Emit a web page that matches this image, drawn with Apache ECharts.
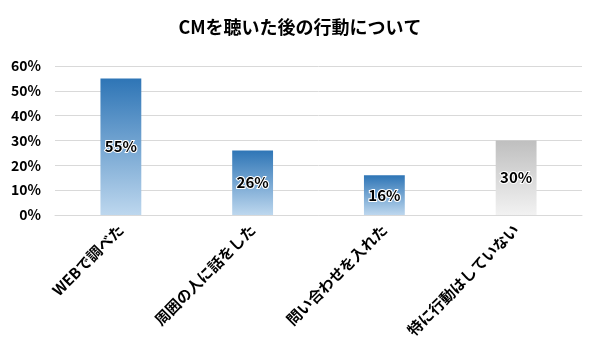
<!DOCTYPE html>
<html><head><meta charset="utf-8">
<script src="https://cdn.jsdelivr.net/npm/echarts@6/dist/echarts.min.js"></script>
<style>html,body{margin:0;padding:0;background:#fff}#c{width:600px;height:360px}</style>
</head><body><div id="c"></div>
<script>
const titleText = 'CMを聴いた後の行動について';
const categories = ['WEBで調べた', '周囲の人に話をした', '問い合わせを入れた', '特に行動はしていない'];
const values = [55, 26, 16, 30];
const highlight = [false, false, false, true];

const font = '"Noto Sans CJK JP", "Noto Sans", sans-serif';
const blueGrad = new echarts.graphic.LinearGradient(0,0,0,1,[{offset:0,color:'#2E75B6'},{offset:1,color:'#BDD7EE'}]);
const grayGrad = new echarts.graphic.LinearGradient(0,0,0,1,[{offset:0,color:'#BFBFBF'},{offset:1,color:'#F2F2F2'}]);

const chart = echarts.init(document.getElementById('c'), null, {renderer:'canvas'});
chart.setOption({
  animation:false,
  title:{text:titleText,left:'center',top:13,textStyle:{fontFamily:font,fontSize:18,fontWeight:'bold',color:'#000'}},
  grid:{left:55,right:18,top:66,bottom:145,containLabel:false},
  xAxis:{type:'category',data:categories,
    axisLine:{show:true,lineStyle:{color:'#D9D9D9'}},axisTick:{show:false},
    axisLabel:{rotate:45,interval:0,margin:12,fontFamily:font,fontSize:15,fontWeight:'bold',color:'#000'}},
  yAxis:{type:'value',min:0,max:60,interval:10,
    axisLine:{show:false},axisTick:{show:false},
    splitLine:{lineStyle:{color:'#D9D9D9',width:1}},
    axisLabel:{formatter:'{value}%',margin:14,fontFamily:font,fontSize:14,fontWeight:'bold',color:'#000'}},
  series:[{type:'bar',barWidth:'31%',
    data:values.map((v,i)=>({value:v,itemStyle:{color:highlight[i]?grayGrad:blueGrad}})),
    label:{show:true,position:'inside',formatter:'{c}%',fontFamily:font,fontSize:15,fontWeight:'bold',color:'#000',textBorderColor:'#fff',textBorderWidth:2}
  }]
});
</script></body></html>
